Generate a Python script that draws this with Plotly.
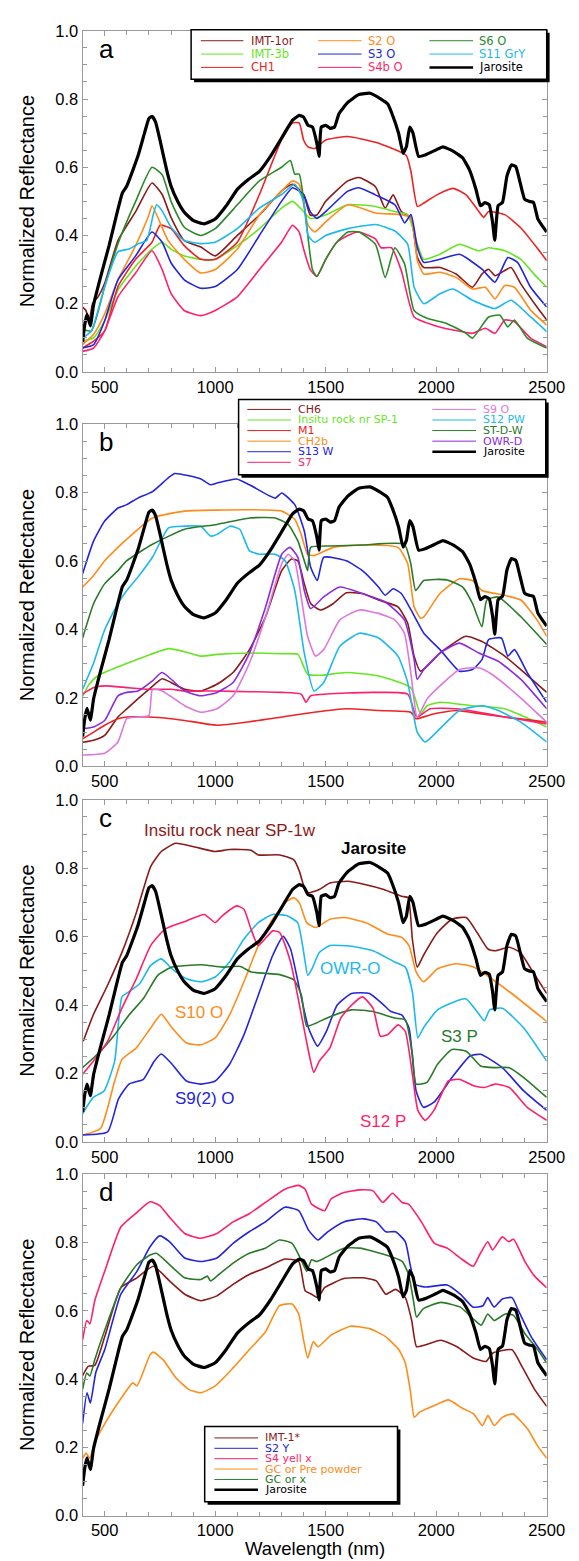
import plotly.graph_objects as go

# ---------------- data (wavelength nm, normalized reflectance) ----------------
JAR_NM = [400,410,420,435,450,480,520,560,580,600,650,680,700,715,730,750,780,800,830,860,900,950,1000,1050,1100,1150,1200,1250,1300,1350,1380,1400,1420,1440,1460,1470,1480,1500,1520,1540,1560,1600,1650,1700,1750,1780,1800,1830,1850,1865,1880,1895,1920,1950,2000,2030,2080,2120,2150,2180,2200,2220,2240,2255,2265,2280,2300,2320,2340,2360,2380,2400,2420,2440,2460,2500]
JAR_R = [0.087,0.14,0.169,0.135,0.198,0.275,0.371,0.477,0.525,0.545,0.632,0.70,0.743,0.749,0.733,0.68,0.593,0.545,0.50,0.468,0.444,0.434,0.448,0.487,0.535,0.564,0.588,0.632,0.685,0.738,0.752,0.747,0.723,0.718,0.67,0.632,0.718,0.723,0.714,0.718,0.757,0.79,0.813,0.817,0.80,0.786,0.757,0.699,0.641,0.66,0.718,0.70,0.632,0.636,0.651,0.66,0.646,0.627,0.593,0.535,0.487,0.496,0.49,0.439,0.386,0.487,0.497,0.574,0.607,0.602,0.554,0.506,0.50,0.497,0.448,0.41]

# panel a
A_IMT1OR_NM = [400,415,430,445,470,500,560,640,714,760,800,860,935,1000,1100,1200,1300,1350,1400,1430,1460,1500,1600,1650,1725,1769,1805,1842,1886,1915,1944,2017,2090,2164,2207,2237,2266,2310,2339,2383,2456,2500]
A_IMT1OR_R = [0.19,0.18,0.15,0.2,0.22,0.26,0.385,0.47,0.554,0.52,0.453,0.385,0.366,0.34,0.40,0.46,0.53,0.55,0.52,0.46,0.46,0.50,0.56,0.57,0.543,0.48,0.519,0.47,0.451,0.335,0.306,0.306,0.287,0.248,0.287,0.301,0.282,0.297,0.306,0.258,0.19,0.152]
A_IMT3B_NM = [400,450,500,560,640,714,760,800,860,935,1000,1100,1200,1300,1350,1400,1430,1500,1600,1725,1813,1871,1915,1944,2017,2105,2193,2237,2310,2383,2456,2500]
A_IMT3B_R = [0.09,0.10,0.15,0.24,0.31,0.36,0.38,0.36,0.34,0.33,0.33,0.37,0.42,0.48,0.50,0.47,0.45,0.46,0.49,0.485,0.47,0.461,0.374,0.33,0.345,0.374,0.355,0.364,0.355,0.33,0.277,0.248]
A_CH1_NM = [400,450,500,560,640,714,751,800,860,935,1000,1100,1200,1300,1350,1380,1400,1420,1450,1500,1600,1725,1864,1886,1915,1944,2003,2076,2135,2193,2215,2237,2310,2383,2456,2500]
A_CH1_R = [0.07,0.09,0.12,0.25,0.33,0.38,0.43,0.42,0.37,0.33,0.33,0.38,0.52,0.68,0.73,0.73,0.68,0.66,0.655,0.68,0.69,0.673,0.635,0.586,0.485,0.495,0.519,0.538,0.519,0.47,0.453,0.47,0.461,0.422,0.364,0.326]
A_S2O_NM = [400,450,500,560,640,700,714,787,860,935,1000,1100,1200,1300,1350,1380,1420,1450,1500,1600,1725,1842,1886,1915,1944,2017,2090,2164,2222,2266,2310,2354,2427,2500]
A_S2O_R = [0.08,0.11,0.17,0.27,0.37,0.46,0.487,0.385,0.33,0.29,0.30,0.36,0.46,0.53,0.56,0.55,0.43,0.41,0.44,0.49,0.466,0.461,0.451,0.326,0.287,0.292,0.277,0.243,0.248,0.214,0.253,0.248,0.181,0.137]
A_S3O_NM = [400,450,500,560,640,714,760,800,860,935,1000,1100,1200,1300,1350,1400,1430,1460,1500,1600,1650,1725,1813,1857,1886,1915,1944,2017,2105,2207,2266,2324,2368,2427,2500]
A_S3O_R = [0.07,0.08,0.15,0.27,0.34,0.41,0.38,0.32,0.27,0.245,0.25,0.30,0.40,0.50,0.54,0.52,0.47,0.45,0.47,0.53,0.54,0.519,0.49,0.437,0.461,0.364,0.321,0.33,0.345,0.301,0.263,0.335,0.321,0.248,0.19]
A_S4BO_NM = [400,450,500,560,640,714,760,800,860,935,1000,1100,1200,1300,1350,1380,1400,1430,1460,1500,1550,1600,1650,1725,1750,1798,1842,1900,1988,2076,2164,2222,2266,2310,2354,2427,2500]
A_S4BO_R = [0.06,0.07,0.12,0.22,0.29,0.355,0.30,0.23,0.18,0.165,0.18,0.22,0.30,0.38,0.43,0.41,0.36,0.30,0.28,0.33,0.38,0.40,0.41,0.39,0.364,0.364,0.297,0.161,0.137,0.123,0.113,0.128,0.113,0.152,0.147,0.099,0.074]
A_S6O_NM = [400,440,500,560,640,714,760,800,860,935,1000,1100,1200,1300,1340,1360,1380,1410,1440,1460,1500,1550,1600,1650,1725,1769,1813,1857,1900,1959,2047,2135,2164,2237,2288,2324,2354,2412,2500]
A_S6O_R = [0.125,0.12,0.25,0.376,0.50,0.60,0.578,0.50,0.424,0.40,0.42,0.49,0.56,0.60,0.62,0.58,0.58,0.45,0.30,0.28,0.33,0.38,0.41,0.41,0.374,0.277,0.364,0.316,0.18,0.157,0.142,0.113,0.099,0.161,0.166,0.132,0.152,0.099,0.07]
A_S11_NM = [400,440,500,560,610,650,690,720,735,760,800,860,935,1000,1100,1200,1300,1360,1400,1420,1450,1500,1600,1725,1813,1871,1900,1944,2017,2076,2164,2266,2339,2427,2500]
A_S11_R = [0.10,0.12,0.25,0.352,0.36,0.375,0.385,0.462,0.49,0.472,0.424,0.385,0.376,0.38,0.42,0.48,0.52,0.55,0.50,0.40,0.38,0.40,0.42,0.432,0.413,0.374,0.248,0.20,0.229,0.243,0.21,0.186,0.21,0.161,0.118]

# panel b
B_CH6_NM = [400,450,500,560,600,650,700,760,800,862,935,1008,1081,1155,1228,1301,1345,1374,1403,1432,1476,1535,1593,1666,1739,1827,1871,1900,1929,1973,2017,2134,2207,2310,2398,2500]
B_CH6_R = [0.07,0.076,0.09,0.144,0.168,0.197,0.225,0.256,0.245,0.225,0.22,0.24,0.274,0.341,0.437,0.572,0.606,0.60,0.534,0.476,0.457,0.476,0.507,0.505,0.486,0.466,0.418,0.322,0.278,0.302,0.331,0.38,0.365,0.322,0.274,0.216]
B_INSITU_NM = [400,430,467,570,686,789,862,935,1008,1155,1301,1374,1418,1476,1593,1739,1885,1929,1959,2017,2164,2310,2500]
B_INSITU_R = [0.205,0.24,0.264,0.293,0.322,0.344,0.335,0.322,0.327,0.331,0.329,0.327,0.269,0.266,0.274,0.264,0.23,0.153,0.177,0.187,0.177,0.168,0.115]
B_M1_NM = [400,450,500,560,600,700,800,862,1008,1155,1301,1447,1593,1739,1885,1907,1915,1988,2090,2207,2310,2500]
B_M1_R = [0.08,0.10,0.12,0.139,0.144,0.144,0.139,0.134,0.12,0.13,0.144,0.158,0.168,0.163,0.158,0.139,0.139,0.153,0.163,0.153,0.144,0.129]
B_CH2B_NM = [400,450,500,560,600,716,862,1008,1155,1301,1360,1389,1418,1447,1535,1666,1827,1871,1900,1929,1944,2017,2105,2164,2207,2310,2383,2456,2500]
B_CH2B_R = [0.524,0.558,0.601,0.64,0.664,0.726,0.746,0.749,0.75,0.746,0.722,0.678,0.62,0.616,0.64,0.647,0.64,0.592,0.466,0.433,0.437,0.505,0.548,0.543,0.514,0.50,0.486,0.428,0.38]
B_S13W_NM = [400,450,500,560,600,650,716,789,818,935,979,1008,1096,1155,1272,1301,1360,1403,1432,1462,1491,1593,1666,1739,1769,1805,1842,1886,1944,2017,2105,2164,2207,2237,2295,2324,2354,2412,2500]
B_S13W_R = [0.563,0.659,0.717,0.755,0.765,0.784,0.803,0.844,0.856,0.84,0.823,0.828,0.84,0.823,0.784,0.799,0.765,0.688,0.582,0.543,0.611,0.601,0.572,0.524,0.50,0.519,0.505,0.457,0.389,0.341,0.278,0.283,0.312,0.37,0.375,0.322,0.341,0.274,0.187]
B_S7_NM = [400,450,500,600,700,800,862,1008,1155,1301,1389,1411,1432,1593,1739,1871,1907,1915,1973,2090,2193,2310,2500]
B_S7_R = [0.211,0.23,0.235,0.23,0.225,0.225,0.22,0.22,0.218,0.216,0.211,0.187,0.206,0.214,0.216,0.211,0.148,0.144,0.168,0.168,0.158,0.144,0.124]
B_S9O_NM = [400,500,560,600,650,700,716,760,862,935,1008,1081,1155,1228,1301,1330,1360,1389,1418,1454,1491,1564,1652,1739,1812,1856,1885,1914,1959,2017,2105,2193,2251,2354,2500]
B_S9O_R = [0.033,0.038,0.071,0.139,0.144,0.148,0.225,0.22,0.177,0.158,0.168,0.206,0.302,0.437,0.592,0.62,0.60,0.495,0.38,0.322,0.341,0.428,0.457,0.447,0.428,0.389,0.274,0.144,0.197,0.235,0.283,0.288,0.269,0.216,0.129]
B_S12PW_NM = [400,450,500,560,600,650,716,789,862,935,979,1008,1067,1111,1155,1198,1272,1316,1360,1403,1447,1491,1564,1652,1739,1827,1871,1914,1950,2017,2105,2207,2281,2383,2500]
B_S12PW_R = [0.225,0.302,0.399,0.476,0.514,0.553,0.611,0.697,0.702,0.702,0.673,0.678,0.702,0.693,0.63,0.62,0.62,0.601,0.514,0.331,0.22,0.245,0.351,0.389,0.375,0.322,0.245,0.10,0.071,0.11,0.163,0.177,0.163,0.129,0.071]
B_STDW_NM = [400,450,500,560,600,716,862,1008,1155,1272,1330,1374,1403,1418,1432,1520,1666,1856,1885,1907,1944,2047,2120,2164,2207,2229,2281,2383,2500]
B_STDW_R = [0.375,0.476,0.534,0.572,0.601,0.649,0.693,0.707,0.726,0.726,0.707,0.659,0.601,0.572,0.64,0.644,0.647,0.649,0.592,0.514,0.543,0.545,0.524,0.476,0.408,0.486,0.495,0.437,0.356]
B_OWRD_NM = [400,450,500,560,600,650,716,760,862,935,1008,1081,1155,1228,1301,1338,1374,1403,1432,1491,1564,1666,1768,1856,1900,1914,1944,2017,2105,2193,2281,2383,2500]
B_OWRD_R = [0.11,0.115,0.134,0.206,0.216,0.22,0.25,0.274,0.22,0.206,0.216,0.245,0.331,0.466,0.62,0.64,0.611,0.514,0.461,0.495,0.524,0.505,0.481,0.428,0.312,0.254,0.283,0.331,0.36,0.331,0.307,0.254,0.168]

# panel c
C_INSITU_NM = [403,448,513,578,643,708,756,821,903,1000,1065,1162,1195,1292,1357,1381,1406,1422,1471,1519,1600,1682,1763,1844,1873,1892,1914,1942,2006,2071,2136,2185,2234,2266,2331,2380,2429,2500]
C_INSITU_R = [0.294,0.371,0.458,0.554,0.67,0.805,0.849,0.873,0.863,0.849,0.855,0.853,0.839,0.839,0.824,0.791,0.738,0.728,0.738,0.757,0.762,0.752,0.738,0.718,0.714,0.593,0.511,0.545,0.612,0.651,0.656,0.612,0.564,0.559,0.569,0.554,0.506,0.434]
C_S10O_NM = [400,481,545,578,643,708,756,805,870,935,1000,1065,1130,1195,1260,1325,1357,1381,1414,1455,1519,1584,1682,1779,1844,1877,1909,1942,2006,2088,2169,2331,2500]
C_S10O_R = [0.02,0.039,0.178,0.241,0.275,0.333,0.373,0.333,0.289,0.284,0.304,0.371,0.468,0.574,0.651,0.704,0.714,0.699,0.641,0.627,0.651,0.656,0.641,0.608,0.598,0.574,0.497,0.468,0.506,0.521,0.511,0.439,0.352]
C_S92O_NM = [400,513,562,610,675,724,756,805,870,935,1000,1065,1130,1195,1260,1308,1341,1381,1422,1463,1503,1552,1617,1698,1763,1795,1844,1877,1909,1942,1990,2071,2153,2201,2299,2396,2500]
C_S92O_R = [0.02,0.029,0.125,0.169,0.183,0.236,0.257,0.227,0.178,0.169,0.178,0.227,0.313,0.429,0.545,0.601,0.564,0.448,0.333,0.28,0.323,0.40,0.434,0.434,0.40,0.381,0.371,0.333,0.149,0.101,0.116,0.188,0.251,0.256,0.217,0.149,0.092]
C_OWRO_NM = [400,448,497,545,578,610,659,708,756,805,870,935,1000,1065,1130,1195,1260,1325,1373,1398,1419,1438,1471,1519,1617,1714,1812,1860,1892,1917,1942,2006,2104,2136,2185,2218,2242,2299,2396,2500]
C_OWRO_R = [0.082,0.13,0.149,0.236,0.424,0.439,0.463,0.516,0.535,0.506,0.477,0.468,0.482,0.526,0.593,0.641,0.665,0.661,0.641,0.564,0.487,0.506,0.554,0.574,0.572,0.559,0.526,0.511,0.439,0.304,0.333,0.386,0.415,0.418,0.381,0.354,0.386,0.391,0.333,0.236]
C_S3P_NM = [400,481,545,610,675,740,805,935,1032,1114,1162,1292,1357,1390,1414,1455,1519,1617,1714,1812,1860,1892,1909,1958,2006,2071,2136,2201,2266,2331,2396,2500]
C_S3P_R = [0.217,0.265,0.313,0.371,0.419,0.487,0.511,0.518,0.511,0.513,0.497,0.489,0.473,0.429,0.338,0.347,0.366,0.386,0.381,0.362,0.357,0.256,0.169,0.174,0.227,0.27,0.265,0.222,0.217,0.217,0.188,0.13]
C_S12P_NM = [400,448,513,578,643,708,773,870,951,1000,1032,1097,1130,1162,1195,1260,1292,1341,1390,1422,1446,1471,1519,1568,1617,1666,1714,1747,1779,1828,1860,1892,1917,1950,1990,2055,2104,2169,2218,2266,2331,2412,2500]
C_S12P_R = [0.198,0.236,0.294,0.391,0.477,0.574,0.622,0.646,0.665,0.641,0.661,0.69,0.68,0.622,0.574,0.617,0.612,0.526,0.371,0.265,0.203,0.236,0.275,0.362,0.40,0.424,0.391,0.309,0.313,0.342,0.323,0.198,0.092,0.063,0.092,0.178,0.183,0.164,0.159,0.169,0.159,0.101,0.063]

# panel d
D_IMT1_NM = [400,426,455,500,573,646,720,793,862,935,1008,1081,1154,1227,1315,1378,1407,1436,1465,1495,1582,1670,1729,1772,1816,1860,1889,1911,1948,2021,2094,2167,2226,2255,2343,2387,2445,2500]
D_IMT1_R = [0.41,0.438,0.44,0.524,0.668,0.697,0.731,0.688,0.649,0.63,0.644,0.678,0.707,0.726,0.752,0.745,0.659,0.649,0.639,0.668,0.695,0.697,0.688,0.649,0.663,0.639,0.572,0.495,0.50,0.514,0.495,0.462,0.452,0.476,0.486,0.438,0.37,0.32]
D_S2Y_NM = [400,420,435,460,500,573,646,705,749,793,862,935,1008,1081,1154,1227,1315,1378,1422,1465,1509,1582,1670,1729,1772,1816,1860,1882,1904,1948,2050,2109,2167,2211,2233,2262,2299,2343,2372,2430,2500]
D_S2Y_R = [0.27,0.36,0.33,0.42,0.486,0.649,0.716,0.788,0.82,0.803,0.755,0.745,0.755,0.798,0.832,0.861,0.904,0.894,0.837,0.808,0.832,0.861,0.87,0.861,0.832,0.832,0.803,0.736,0.678,0.67,0.676,0.649,0.611,0.615,0.639,0.611,0.635,0.639,0.601,0.524,0.457]
D_S4_NM = [400,419,433,455,500,573,646,705,749,793,862,935,1008,1081,1154,1227,1315,1378,1407,1436,1495,1524,1582,1655,1714,1758,1802,1846,1875,1933,1992,2050,2109,2167,2196,2233,2255,2299,2328,2350,2401,2445,2500]
D_S4_R = [0.514,0.572,0.562,0.63,0.716,0.846,0.889,0.92,0.909,0.875,0.827,0.813,0.827,0.861,0.885,0.918,0.957,0.968,0.957,0.913,0.894,0.928,0.947,0.955,0.952,0.918,0.945,0.918,0.913,0.861,0.798,0.784,0.755,0.731,0.764,0.803,0.779,0.817,0.803,0.81,0.745,0.702,0.668]
D_GCPRE_NM = [400,416,432,456,500,562,627,646,705,720,764,822,880,935,1000,1081,1154,1227,1290,1348,1378,1400,1419,1444,1465,1524,1612,1699,1772,1831,1860,1882,1901,1925,1990,2055,2120,2169,2209,2234,2263,2299,2347,2412,2461,2500]
D_GCPRE_R = [0.168,0.183,0.168,0.216,0.269,0.332,0.389,0.38,0.471,0.479,0.457,0.404,0.37,0.36,0.38,0.433,0.486,0.538,0.615,0.62,0.591,0.514,0.462,0.51,0.495,0.529,0.555,0.548,0.524,0.486,0.447,0.37,0.288,0.303,0.322,0.339,0.314,0.298,0.264,0.293,0.264,0.288,0.298,0.255,0.202,0.168]
D_GCX_NM = [400,419,433,455,500,573,646,705,734,793,862,935,964,979,1008,1081,1154,1227,1290,1348,1392,1414,1436,1458,1480,1582,1655,1772,1846,1875,1897,1911,1941,2021,2109,2167,2204,2233,2262,2313,2350,2401,2460,2500]
D_GCX_R = [0.37,0.418,0.409,0.457,0.543,0.668,0.736,0.764,0.769,0.736,0.697,0.692,0.702,0.688,0.702,0.74,0.769,0.784,0.808,0.798,0.745,0.716,0.75,0.745,0.75,0.784,0.784,0.764,0.745,0.707,0.63,0.582,0.606,0.625,0.611,0.577,0.558,0.591,0.572,0.591,0.587,0.534,0.486,0.447]

# colours
C_BROWN = "#8B1A1A"; C_LGREEN = "#66E622"; C_RED = "#EE2222"; C_ORANGE = "#FF8C1A"
C_BLUE = "#2424DD"; C_PINK = "#FF1F6B"; C_GREEN = "#2A8A2A"; C_CYAN = "#1CB8EE"
C_ORCHID = "#DD77DD"; C_PURPLE = "#8A2BE2"; C_DGREEN = "#2A7A2A"

PANELS = [
    [("IMT-1or", A_IMT1OR_NM, A_IMT1OR_R, C_BROWN), ("IMT-3b", A_IMT3B_NM, A_IMT3B_R, C_LGREEN),
     ("CH1", A_CH1_NM, A_CH1_R, C_RED), ("S2 O", A_S2O_NM, A_S2O_R, C_ORANGE),
     ("S3 O", A_S3O_NM, A_S3O_R, C_BLUE), ("S4b O", A_S4BO_NM, A_S4BO_R, C_PINK),
     ("S6 O", A_S6O_NM, A_S6O_R, C_GREEN), ("S11 GrY", A_S11_NM, A_S11_R, C_CYAN)],
    [("CH6", B_CH6_NM, B_CH6_R, C_BROWN), ("Insitu rock nr SP-1", B_INSITU_NM, B_INSITU_R, C_LGREEN),
     ("M1", B_M1_NM, B_M1_R, C_RED), ("CH2b", B_CH2B_NM, B_CH2B_R, C_ORANGE),
     ("S13 W", B_S13W_NM, B_S13W_R, C_BLUE), ("S7", B_S7_NM, B_S7_R, C_PINK),
     ("S9 O", B_S9O_NM, B_S9O_R, C_ORCHID), ("S12 PW", B_S12PW_NM, B_S12PW_R, C_CYAN),
     ("ST-D-W", B_STDW_NM, B_STDW_R, C_DGREEN), ("OWR-D", B_OWRD_NM, B_OWRD_R, C_PURPLE)],
    [("Insitu rock near SP-1w", C_INSITU_NM, C_INSITU_R, C_BROWN), ("S10 O", C_S10O_NM, C_S10O_R, C_ORANGE),
     ("S9(2) O", C_S92O_NM, C_S92O_R, C_BLUE), ("OWR-O", C_OWRO_NM, C_OWRO_R, C_CYAN),
     ("S3 P", C_S3P_NM, C_S3P_R, C_DGREEN), ("S12 P", C_S12P_NM, C_S12P_R, C_PINK)],
    [("IMT-1*", D_IMT1_NM, D_IMT1_R, C_BROWN), ("S2 Y", D_S2Y_NM, D_S2Y_R, C_BLUE),
     ("S4 yell x", D_S4_NM, D_S4_R, C_PINK), ("GC or Pre powder", D_GCPRE_NM, D_GCPRE_R, C_ORANGE),
     ("GC or x", D_GCX_NM, D_GCX_R, C_DGREEN)],
]

W, H = 579, 1561
PX_L, PX_R = 77, 556
PANEL_PX = [(14, 359), (412, 758), (792, 1138), (1171, 1516)]
LETTERS = ["a", "b", "c", "d"]

def px(x):
    return x / W

def py(y):
    return 1 - y / H

fig = go.Figure()
layout = dict(width=W, height=H, margin=dict(l=0, r=0, t=0, b=0),
              paper_bgcolor="white", plot_bgcolor="white", showlegend=False,
              font=dict(family="Liberation Sans, Arial, sans-serif", color="black"))
shapes, annotations = [], []

for i, series in enumerate(PANELS):
    n = "" if i == 0 else str(i + 1)
    xa, ya = "x" + n, "y" + n
    top, bot = PANEL_PX[i]
    for name, nm, r, col in series:
        fig.add_trace(go.Scatter(x=nm, y=r, mode="lines", name=name, xaxis=xa, yaxis=ya,
                                 line=dict(color=col, width=1.6, shape="spline", smoothing=0.5),
                                 hoverinfo="skip"))
    fig.add_trace(go.Scatter(x=JAR_NM, y=JAR_R, mode="lines", name="Jarosite", xaxis=xa, yaxis=ya,
                             line=dict(color="black", width=3.2, shape="spline", smoothing=0.4),
                             hoverinfo="skip"))
    axstyle = dict(showgrid=False, zeroline=False, showline=True, linecolor="#999999", linewidth=1,
                   mirror="ticks", ticks="inside", ticklen=5, tickcolor="#999999",
                   tickfont=dict(size=16.5, color="black"))
    layout["xaxis" + n] = dict(domain=[px(PX_L), px(PX_R)], range=[400, 2500], anchor=ya,
                               tickvals=[500, 1000, 1500, 2000, 2500],
                               minor=dict(dtick=100, tick0=400, ticks="inside", ticklen=4, tickcolor="#999999"),
                               **axstyle)
    layout["yaxis" + n] = dict(domain=[py(bot), py(top)], range=[0, 1.0], anchor=xa,
                               tickvals=[0, 0.2, 0.4, 0.6, 0.8, 1.0], tickformat=".1f",
                               minor=dict(dtick=0.05, tick0=0, ticks="inside", ticklen=4, tickcolor="#999999"),
                               **axstyle)
    annotations.append(dict(text="Normalized Reflectance", x=px(19.5), y=py((top + bot) / 2),
                            xref="paper", yref="paper", textangle=-90, showarrow=False,
                            xanchor="center", yanchor="middle", font=dict(size=20)))
    annotations.append(dict(text=LETTERS[i], x=px(92), y=py(top + 18), xref="paper", yref="paper",
                            showarrow=False, xanchor="left", yanchor="middle", font=dict(size=26)))

annotations.append(dict(text="Wavelength (nm)", x=px(316.5), y=py(1561), xref="paper", yref="paper",
                        showarrow=False, xanchor="center", yanchor="bottom", borderpad=0,
                        font=dict(size=18.5)))

# panel c direct labels
C_LABELS = [("Insitu rock near SP-1w", 1065, 0.911, C_BROWN, False), ("Jarosite", 1714, 0.858, "black", True),
            ("OWR-O", 1610, 0.508, C_CYAN, False), ("S10 O", 927, 0.379, C_ORANGE, False),
            ("S3 P", 2107, 0.309, C_DGREEN, False), ("S9(2) O", 955, 0.128, C_BLUE, False),
            ("S12 P", 1757, 0.06, C_PINK, False)]
for txt, x, y, col, bold in C_LABELS:
    annotations.append(dict(text="<b>%s</b>" % txt if bold else txt, x=x, y=y, xref="x3", yref="y3",
                            showarrow=False, xanchor="center", yanchor="middle",
                            font=dict(size=17, color=col)))

# legends (boxes drawn in pixel positions)
LEG_FONT = "DejaVu Sans, sans-serif"

def legend_box(x0, y0, x1, y1):
    shapes.append(dict(type="rect", xref="paper", yref="paper", x0=px(x0 + 3), x1=px(x1 + 3),
                       y0=py(y1 + 3), y1=py(y0 + 3), fillcolor="black", line=dict(width=0), layer="above"))
    shapes.append(dict(type="rect", xref="paper", yref="paper", x0=px(x0), x1=px(x1),
                       y0=py(y1), y1=py(y0), fillcolor="white", line=dict(color="black", width=1.5), layer="above"))

def legend_item(lx0, lx1, tx, yc, name, col, size, jar=False):
    shapes.append(dict(type="line", xref="paper", yref="paper", x0=px(lx0), x1=px(lx1), y0=py(yc), y1=py(yc),
                       line=dict(color=col, width=2.5 if jar else 1), layer="above"))
    annotations.append(dict(text=name, x=px(tx), y=py(yc), xref="paper", yref="paper", showarrow=False,
                            xanchor="left", yanchor="middle", borderpad=0,
                            font=dict(size=size, color="black" if jar else col, family=LEG_FONT)))

# legend a: 3 columns x 3 rows (column-major)
legend_box(189, 13, 556, 63)
cols_a = [(199, 243, 250), (320, 365, 371), (435, 480, 485)]
rows_a = [24, 37.5, 51]
items_a = [(s[0], s[3]) for s in PANELS[0]] + [("Jarosite", "black")]
for k, (name, col) in enumerate(items_a):
    c, r = divmod(k, 3)
    legend_item(cols_a[c][0], cols_a[c][1], cols_a[c][2], rows_a[r], name, col, 11.5, name == "Jarosite")

# legend b: 2 columns, 6 + 5 rows
legend_box(238, 387, 555, 463)
rows_b = [397, 407.7, 418.4, 429.1, 439.8, 450.5]
items_b = [(s[0], s[3]) for s in PANELS[1]] + [("Jarosite", "black")]
for k, (name, col) in enumerate(items_b):
    if k < 6:
        legend_item(247, 292, 298, rows_b[k], name, col, 11)
    else:
        legend_item(438, 483, 489, rows_b[k - 6], name, col, 11, name == "Jarosite")

# legend d: 1 column
legend_box(203, 1426, 402, 1502)
rows_d = [1437.5, 1448, 1458.5, 1469, 1479.5, 1490]
items_d = [(s[0], s[3]) for s in PANELS[3]] + [("Jarosite", "black")]
for k, (name, col) in enumerate(items_d):
    legend_item(213, 258, 264, rows_d[k], name, col, 11, name == "Jarosite")

layout["shapes"] = shapes
layout["annotations"] = annotations
fig.update_layout(**layout)
fig.write_html("out.html")
